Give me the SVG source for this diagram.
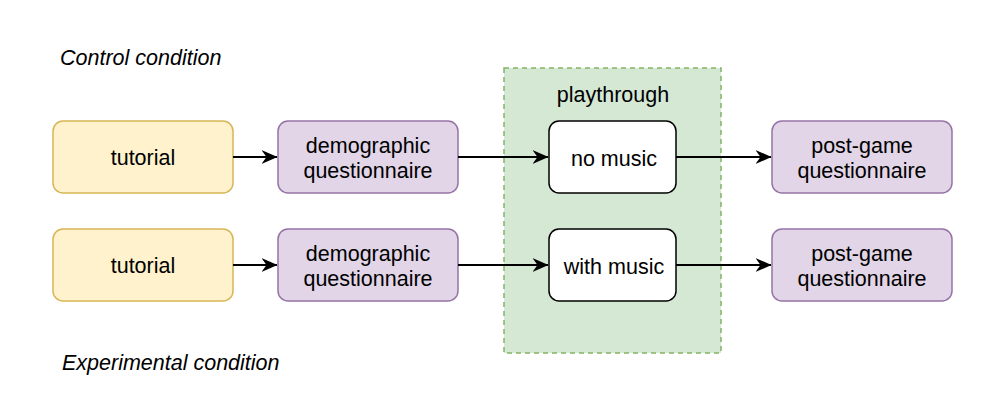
<svg xmlns="http://www.w3.org/2000/svg" width="1000" height="420" viewBox="0 0 1000 420">
<defs>
<marker id="arr" viewBox="0 0 16 14" refX="15.5" refY="7" markerWidth="16" markerHeight="14" markerUnits="userSpaceOnUse" orient="auto">
<path d="M0,0 L16,7 L0,14 L5,7 Z" fill="#000"/>
</marker>
<style>
text{font-family:"Liberation Sans",Arial,sans-serif;font-size:21.5px;fill:#000}
.c{text-anchor:middle}
.it{font-style:italic}
.y{fill:#fff2cc;stroke:#d6b656;stroke-width:1.5}
.p{fill:#e1d5e7;stroke:#9673a6;stroke-width:1.5}
.w{fill:#fff;stroke:#000;stroke-width:1.5}
.g{fill:#d5e8d4;stroke:#82b366;stroke-width:1.5;stroke-dasharray:5 4}
.e{stroke:#000;stroke-width:2;fill:none;marker-end:url(#arr)}
</style>
</defs>
<rect width="1000" height="420" fill="#fff"/>
<text class="it" x="60" y="65">Control condition</text>
<text class="it" x="62" y="370">Experimental condition</text>
<g id="playthrough">
<rect class="g" x="504" y="68" width="217" height="285"/>
<text class="c" x="613" y="102">playthrough</text>
</g>
<g id="tutorial1"><rect class="y" x="53" y="121" width="180" height="72" rx="10"/><text class="c" x="143" y="165">tutorial</text></g>
<g id="tutorial2"><rect class="y" x="53" y="229" width="180" height="72" rx="10"/><text class="c" x="143" y="273">tutorial</text></g>
<g id="demo1"><rect class="p" x="278" y="121" width="180" height="72" rx="10"/><text class="c" x="368" y="153">demographic</text><text class="c" x="368" y="178">questionnaire</text></g>
<g id="demo2"><rect class="p" x="278" y="229" width="180" height="72" rx="10"/><text class="c" x="368" y="261">demographic</text><text class="c" x="368" y="286">questionnaire</text></g>
<g id="nomusic"><rect class="w" x="549" y="121" width="127" height="72" rx="10"/><text class="c" x="614" y="166">no music</text></g>
<g id="withmusic"><rect class="w" x="549" y="229" width="127" height="72" rx="10"/><text class="c" x="614" y="274">with music</text></g>
<g id="post1"><rect class="p" x="772" y="121" width="180" height="72" rx="10"/><text class="c" x="862" y="153">post-game</text><text class="c" x="862" y="178">questionnaire</text></g>
<g id="post2"><rect class="p" x="772" y="229" width="180" height="72" rx="10"/><text class="c" x="862" y="261">post-game</text><text class="c" x="862" y="286">questionnaire</text></g>
<g id="connectors">
<path class="e" d="M233,157 L277,157"/>
<path class="e" d="M233,265 L277,265"/>
<path class="e" d="M458,157 L548,157"/>
<path class="e" d="M458,265 L548,265"/>
<path class="e" d="M676,157 L771,157"/>
<path class="e" d="M676,265 L771,265"/>
</g>
</svg>
